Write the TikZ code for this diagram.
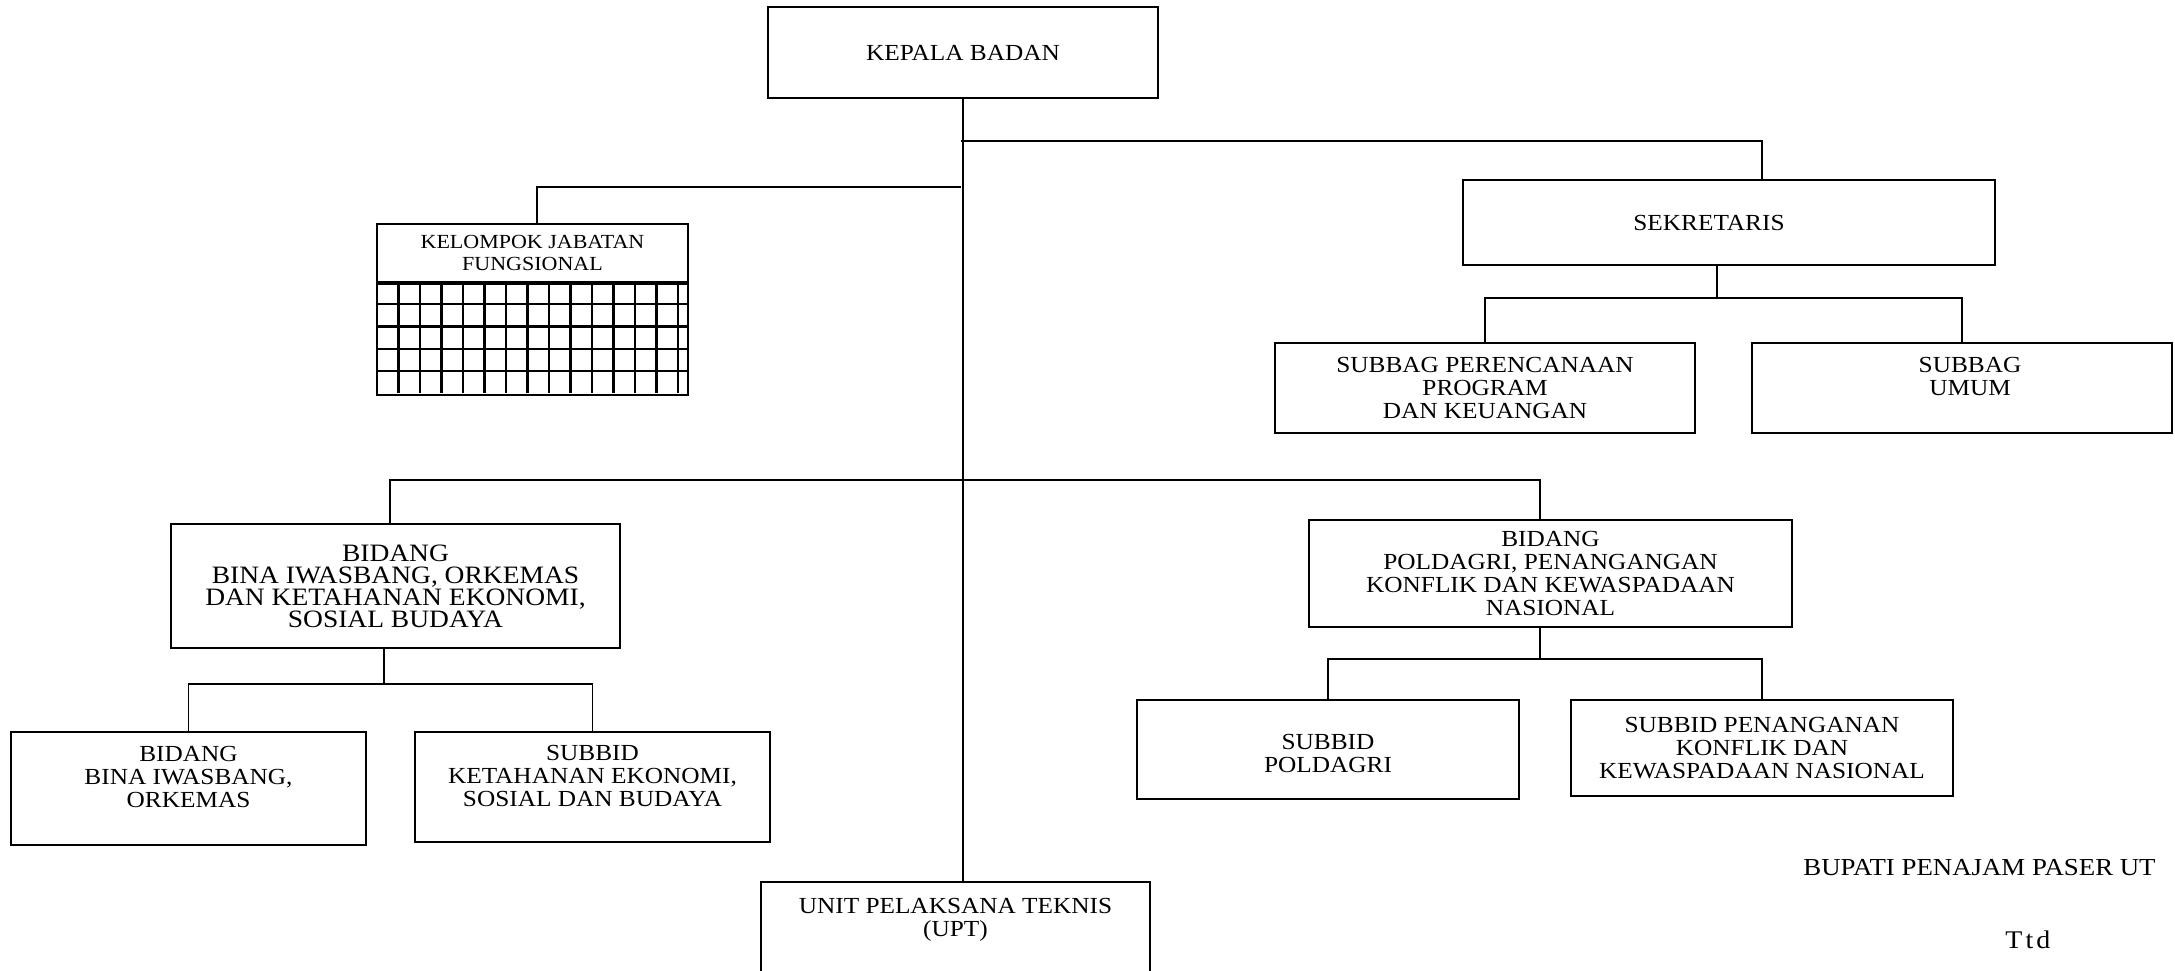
\documentclass[tikz,border=0pt]{standalone}
\usepackage{fontspec}
\setmainfont[FakeStretch=1.1]{Liberation Serif}
\usetikzlibrary{positioning}

\tikzset{
  unit/.style={draw, line width=0.9pt, align=center, inner sep=1pt, font=\fontsize{11.5}{11.5}\selectfont},
  link/.style={line width=0.9pt},
}

\begin{document}
\begin{tikzpicture}[x=0.5pt,y=-0.5pt]
  \useasboundingbox (0,0) rectangle (2175,970);
  \node[unit,minimum width=195pt,minimum height=45.5pt] (kb)   at (963,52.5)   {KEPALA BADAN};
  \node[unit,minimum width=266pt,minimum height=42.5pt] (sek)  at (1729,222.5) {SEKRETARIS\hspace*{20pt}};
  \node[unit,minimum width=210pt,minimum height=45pt]   (sb_1) at (1485,388)   {SUBBAG PERENCANAAN\\PROGRAM\\DAN KEUANGAN};
  \node[unit,minimum width=210pt,minimum height=45pt]   (sb_2) at (1962,388)   {\hspace*{8pt}SUBBAG\\\hspace*{8pt}UMUM\\\mbox{}};
  \node[unit,minimum width=155.5pt,minimum height=29pt,font=\fontsize{10}{10.8}\selectfont] (kjf) at (532.5,253) {KELOMPOK JABATAN\\FUNGSIONAL};
  \node[unit,minimum width=224.5pt,minimum height=62pt,font=\fontsize{12.5}{11}\selectfont] (bd_1) at (395.5,586) {BIDANG\\BINA IWASBANG, ORKEMAS\\DAN KETAHANAN EKONOMI,\\SOSIAL BUDAYA};
  \node[unit,minimum width=177.5pt,minimum height=56.5pt] (sd_1) at (188.5,788.5) {BIDANG\\BINA IWASBANG,\\ORKEMAS\\\mbox{}};
  \node[unit,minimum width=177.5pt,minimum height=55pt]   (sd_2) at (592.5,787)   {SUBBID\\KETAHANAN EKONOMI,\\SOSIAL DAN BUDAYA\\\mbox{}};
  \node[unit,minimum width=241.5pt,minimum height=53.5pt] (bd_2) at (1550.5,573.5) {BIDANG\\POLDAGRI, PENANGANGAN\\KONFLIK DAN KEWASPADAAN\\NASIONAL};
  \node[unit,minimum width=191pt,minimum height=49.5pt]   (sd_3) at (1328,749.5)  {\mbox{}\\SUBBID\\POLDAGRI};
  \node[unit,minimum width=191pt,minimum height=48pt]     (sd_4) at (1762,748)    {SUBBID PENANGANAN\\KONFLIK DAN\\KEWASPADAAN NASIONAL};
  \node[unit,minimum width=194.5pt,minimum height=58pt,anchor=north] (upt) at (955.5,881) {UNIT PELAKSANA TEKNIS\\(UPT)\\\mbox{}\\\mbox{}};

  % grid under kelompok jabatan fungsional
  \node[draw,line width=0.9pt,minimum width=155.5pt,minimum height=55.5pt,inner sep=0pt,anchor=north] (kgrid) at (kjf.south) {};
  \foreach \i in {1,...,14}
    \draw[line width=1.1pt] (377+21.5*\i,282) -- (377+21.5*\i,393);
  \foreach \j in {1,...,4}
    \draw[line width=1.1pt] (377,282+22.2*\j) -- (688,282+22.2*\j);

  \node[anchor=base west,inner sep=0pt,font=\fontsize{12.2}{13}\selectfont] (bpt) at (1803,875) {BUPATI PENAJAM PASER UT};
  \node[anchor=base west,inner sep=0pt,font=\fontsize{12.7}{13}\selectfont\addfontfeature{LetterSpace=12}] (ttd) at (2005,948) {Ttd};

  \coordinate (t_1) at (961,141);
  \coordinate (t_2) at (961,187);
  \coordinate (t_3) at (961,480);
  \coordinate (sek_in) at (1762,180);
  \coordinate (sek_out) at (1717,265);
  \coordinate (kjf_in) at (537,225);
  \coordinate (bd_1_in) at (390,524);
  \coordinate (bd_2_in) at (1540,520);
  \coordinate (bd_1_out) at (384,648);
  \coordinate (bd_2_out) at (1540,627);

  \draw[link] (kb.south) -- (kb.south |- upt.north);
  \draw[link] (t_1) -| (sek_in);
  \draw[link] (t_2) -| (kjf_in);
  \draw[link] (bd_1_in) |- (t_3) -| (bd_2_in);
  \draw[link] (sek_out) -- ++(0,33) -| (sb_1.north);
  \draw[link] (sek_out) ++(0,33) -| (sb_2.north);
  \draw[link] (bd_1_out) -- ++(0,36) -| (sd_1.north);
  \draw[link] (bd_1_out) ++(0,36) -| (sd_2.north);
  \draw[link] (bd_2_out) -- ++(0,32) -| (sd_3.north);
  \draw[link] (bd_2_out) ++(0,32) -| (sd_4.north);
\end{tikzpicture}
\end{document}
